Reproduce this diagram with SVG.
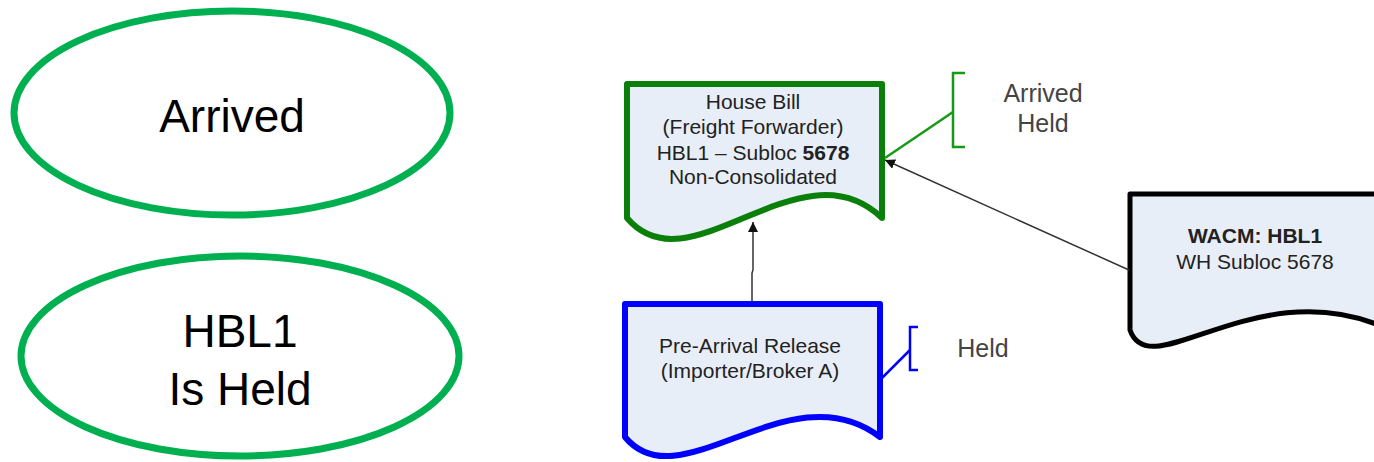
<svg xmlns="http://www.w3.org/2000/svg" width="1374" height="462" viewBox="0 0 1374 462">
<style>
.ell{fill:#fff;stroke:#00B050;stroke-width:7}
.big{font-family:"Liberation Sans",Arial,sans-serif;font-size:46px;fill:#000;text-anchor:middle}
.doc{fill:#E8EEF7;stroke-linejoin:round}
.dt{font-family:"Liberation Sans",Arial,sans-serif;font-size:21px;fill:#222;text-anchor:middle}
.lbl{font-family:"Liberation Sans",Arial,sans-serif;font-size:25px;fill:#444;text-anchor:middle}
.conn{fill:none;stroke:#333;stroke-width:1.5}
.brk{fill:none;stroke-width:2.5}
</style>
<defs>
<marker id="ah" viewBox="0 0 10 10" refX="10" refY="5" markerWidth="10" markerHeight="10" markerUnits="userSpaceOnUse" orient="auto">
<path d="M0,0 L10,5 L0,10 Z" fill="#111"/>
</marker>
</defs>
<g id="state-arrived">
<ellipse class="ell" cx="232" cy="113" rx="218" ry="102"/>
<text class="big" x="232" y="132">Arrived</text>
</g>
<g id="state-held">
<ellipse class="ell" cx="240" cy="356" rx="219" ry="100"/>
<text class="big" x="240" y="347">HBL1</text>
<text class="big" x="240" y="405">Is Held</text>
</g>
<g id="house-bill">
<path class="doc" stroke="#0A800A" stroke-width="6" d="M627,84 H882 V218 C800,140 690,292 627,218 Z"/>
<text class="dt" x="753" y="109">House Bill</text>
<text class="dt" x="753" y="134">(Freight Forwarder)</text>
<text class="dt" x="753" y="160">HBL1 – Subloc <tspan font-weight="bold">5678</tspan></text>
<text class="dt" x="753" y="184">Non-Consolidated</text>
</g>
<g id="pre-arrival">
<path class="doc" stroke="#0000FF" stroke-width="6" d="M625,304 H880 V437 C790,368 680,504 625,437 Z"/>
<text class="dt" x="750" y="353" fill="#333">Pre-Arrival Release</text>
<text class="dt" x="750" y="378" fill="#333">(Importer/Broker A)</text>
</g>
<g id="wacm">
<path class="doc" stroke="#000" stroke-width="5" d="M1130,194 H1390 V330 C1260,268 1150,388 1130,330 Z"/>
<text class="dt" x="1255" y="243" font-weight="bold">WACM: HBL1</text>
<text class="dt" x="1255" y="269">WH Subloc 5678</text>
</g>
<g id="status-arrived-held">
<path class="brk" stroke="#169A16" d="M965,73 H953 V147 H965"/>
<text class="lbl" x="1043" y="102">Arrived</text>
<text class="lbl" x="1043" y="132">Held</text>
</g>
<g id="status-held">
<path class="brk" stroke="#0000FF" d="M918,327 H910 V370 H918"/>
<text class="lbl" x="983" y="357">Held</text>
</g>
<g id="connectors">
<path class="conn" d="M752,302 V273 L753,270 V222" marker-end="url(#ah)"/>
<path class="conn" d="M1129,270 L885,160" marker-end="url(#ah)"/>
<path class="brk" stroke="#169A16" d="M953,112 L885,158"/>
<path class="brk" stroke="#0000FF" d="M910,350 L882,378"/>
</g>
</svg>
